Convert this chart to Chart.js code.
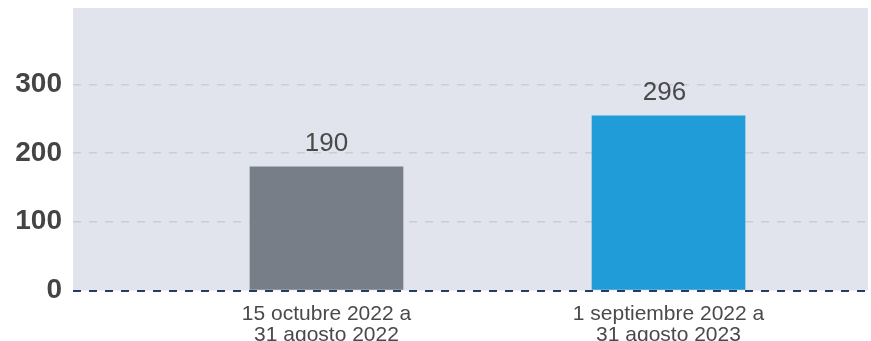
<!DOCTYPE html>
<html>
<head>
<meta charset="utf-8">
<script src="https://cdn.jsdelivr.net/npm/chart.js@4.4.0/dist/chart.umd.min.js"></script>
<style>
  html, body { margin: 0; padding: 0; background: #ffffff; }
  #wrap { width: 871px; height: 341px; }
</style>
</head>
<body>
<div id="wrap"><canvas id="periodosChart"></canvas></div>
<script>
// periodos comparados
const categories = [
  ['15 octubre 2022 a', '31 agosto 2022'],
  ['1 septiembre 2022 a', '31 agosto 2023']
];
// altura de las barras tal como aparecen dibujadas
const barValues = [180, 254];
// etiquetas que se muestran sobre cada barra
const valueLabels = ['190', '296'];
const yTicks = [0, 100, 200, 300];
const barColors = ['#787e87', '#209cd9'];

document.addEventListener("DOMContentLoaded", function () {
  const ctx = document.getElementById('periodosChart').getContext('2d');

  const fondoPlugin = {
    id: 'fondo',
    beforeDraw(chart) {
      const a = chart.chartArea;
      const c = chart.ctx;
      c.save();
      c.fillStyle = '#e1e4ec';
      c.fillRect(a.left, a.top, a.right - a.left, a.bottom - a.top);
      c.restore();
    }
  };

  const etiquetasPlugin = {
    id: 'etiquetas',
    afterDatasetsDraw(chart) {
      const c = chart.ctx;
      const meta = chart.getDatasetMeta(0);
      c.save();
      c.font = '26px "Liberation Sans", Arial, sans-serif';
      c.fillStyle = '#4a4a4a';
      c.textAlign = 'center';
      c.textBaseline = 'bottom';
      meta.data.forEach((bar, i) => {
        c.fillText(valueLabels[i], bar.x - 4 * i, bar.y - 10);
      });
      c.restore();
    }
  };

  const data = {
    datasets: [{
      data: barValues.map((v, i) => ({ x: i, y: v })),
      backgroundColor: barColors,
      barThickness: 153,
      borderWidth: 0
    }]
  };

  const config = {
    type: 'bar',
    data: data,
    options: {
      responsive: true,
      maintainAspectRatio: false,
      animation: false,
      layout: { padding: { top: 8, right: 3, left: 0, bottom: 0 } },
      plugins: {
        legend: { display: false },
        tooltip: { enabled: false }
      },
      scales: {
        x: {
          type: 'linear',
          offset: false,
          bounds: 'data',
          min: -0.7412,
          max: 1.5833,
          grid: { display: false },
          border: { display: false },
          afterBuildTicks: (scale) => {
            scale.ticks = categories.map((c, i) => ({ value: i }));
          },
          afterFit: (scale) => {
            scale.height = 50.5;
            scale.paddingLeft = 0;
            scale.paddingRight = 0;
          },
          ticks: {
            autoSkip: false,
            maxRotation: 0,
            padding: 5,
            color: '#4a4a4a',
            font: { family: '"Liberation Sans", Arial, sans-serif', size: 21, lineHeight: 1.0 },
            callback: (value) => categories[value] || ''
          }
        },
        y: {
          min: 0,
          max: 411,
          afterBuildTicks: (scale) => {
            scale.ticks = yTicks.map(v => ({ value: v }));
          },
          afterFit: (scale) => {
            scale.width = 73;
            scale.paddingTop = 0;
            scale.paddingBottom = 0;
          },
          grid: {
            drawTicks: false,
            color: (c) => c.tick && c.tick.value === 0 ? '#243a68' : '#c9cdd6',
            lineWidth: (c) => c.tick && c.tick.value === 0 ? 2 : 1.5
          },
          border: {
            display: false,
            dash: [8, 8]
          },
          ticks: {
            padding: 11,
            color: '#444444',
            font: { family: '"Liberation Sans", Arial, sans-serif', size: 28, weight: 'bold' }
          }
        }
      }
    },
    plugins: [fondoPlugin, etiquetasPlugin]
  };

  new Chart(ctx, config);
});
</script>
</body>
</html>
